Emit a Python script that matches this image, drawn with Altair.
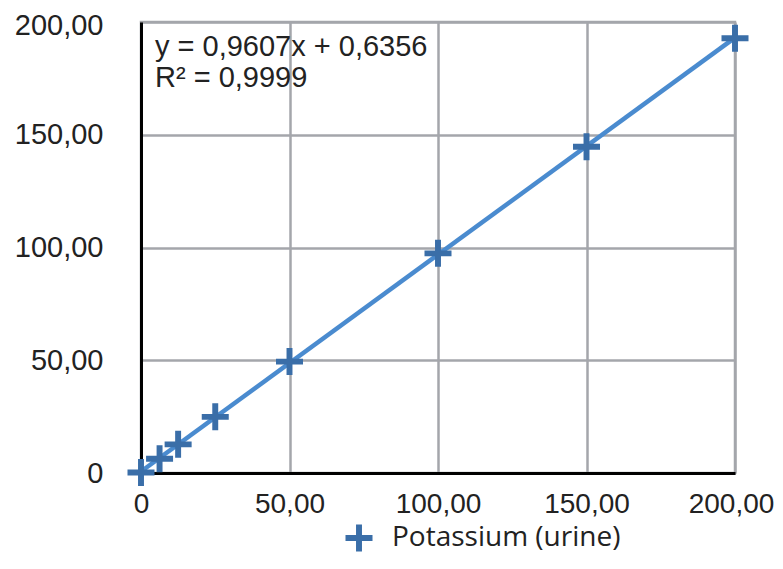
import altair as alt
import pandas as pd

conc = [0, 6.25, 12.5, 25, 50, 100, 150, 200]
measured = [0.2, 6.3, 12.7, 24.9, 49.4, 97.4, 144.7, 192.8]
series = ["Potassium (urine)"] * len(conc)
equation_lines = ["y = 0,9607x + 0,6356", "R² = 0,9999"]
ticks = [0, 50, 100, 150, 200]

df = pd.DataFrame({"conc": conc, "measured": measured, "series": series})
eq_df = pd.DataFrame({"label": ["\n".join(equation_lines)]})

cross = "M-1,-0.22H1V0.22H-1Z M-0.22,-1H0.22V1H-0.22Z"
label_expr = "datum.value == 0 ? '0' : replace(format(datum.value, '.2f'), '.', ',')"

x_enc = alt.X("conc:Q", scale=alt.Scale(domain=[0, 200], nice=False),
              axis=alt.Axis(values=ticks, labelExpr=label_expr, title=None, ticks=False,
                            labelPadding=17, labelFontSize=28, labelFont="Liberation Sans",
                            labelColor="#222222", domainColor="#000000", domainWidth=3,
                            gridColor="#a4a6ab", gridWidth=2.5, labelFlush=False,
                            labelOffset={"condition": {"test": "datum.value == 200", "value": -4},
                                         "value": 0}))
y_enc = alt.Y("measured:Q", scale=alt.Scale(domain=[0, 200], nice=False),
              axis=alt.Axis(values=ticks, labelExpr=label_expr, title=None, ticks=False,
                            labelPadding=38, labelFontSize=29, labelFont="Liberation Sans",
                            labelColor="#222222", domainColor="#000000", domainWidth=3,
                            gridColor="#a4a6ab", gridWidth=2.5,
                            labelOffset={"condition": {"test": "datum.value == 200", "value": 3},
                                         "value": 0}))

line = alt.Chart(df).transform_regression(
    "conc", "measured", extent=[0, 200]
).mark_line(color="#4a8bcf", strokeWidth=4.5).encode(x=x_enc, y=y_enc)

points = alt.Chart(df).mark_point(shape=cross, filled=True, size=729, opacity=1, strokeWidth=0).encode(
    x="conc:Q", y="measured:Q",
    color=alt.Color("series:N", scale=alt.Scale(range=["#3a6ea8"]),
                    legend=alt.Legend(title=None, orient="none", legendX=204, legendY=502,
                                      symbolType=cross, symbolSize=729, symbolFillColor="#3a6ea8",
                                      symbolStrokeWidth=0, labelFontSize=28, labelFont="Open Sans",
                                      labelColor="#222222", labelOffset=19, labelLimit=0)),
)

text = alt.Chart(eq_df).mark_text(align="left", baseline="top", fontSize=29, lineBreak="\n",
                                  font="Liberation Sans", color="#222222", lineHeight=31).encode(
    x=alt.value(14), y=alt.value(11), text="label:N")

chart = alt.layer(line, points, text).properties(
    width=594, height=451,
    autosize=alt.AutoSizeParams(type="none"),
    padding={"left": 133, "top": 14, "right": 40, "bottom": 81},
).configure_view(stroke="#a4a6ab", strokeWidth=2.5)

chart.save("out.html", embed_options={"renderer": "svg", "actions": False})
